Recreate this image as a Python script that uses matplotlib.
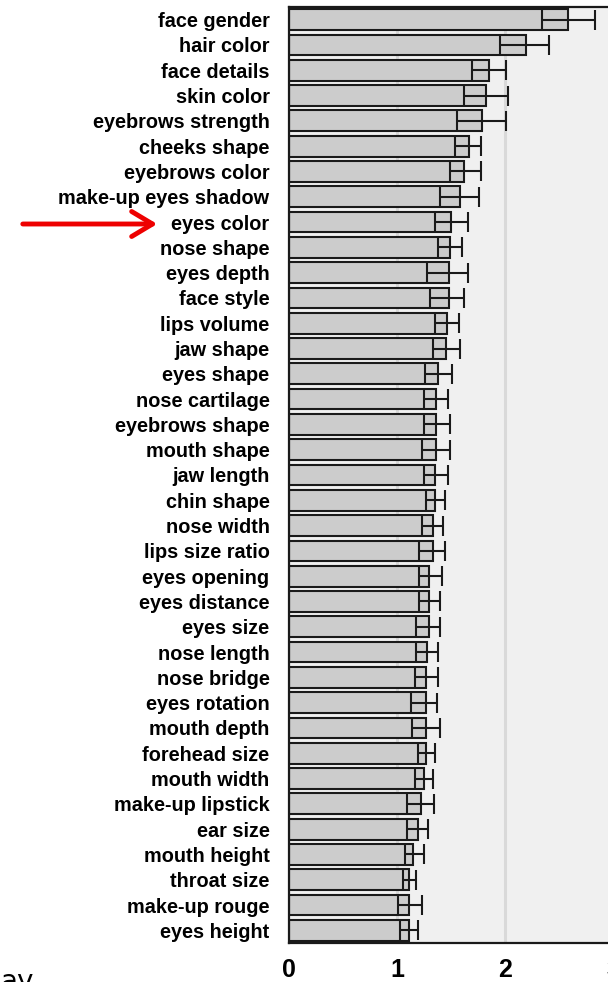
import numpy as np
import matplotlib
matplotlib.use("Agg")
import matplotlib.pyplot as plt


# 特征名称（从上到下）
features = [
    "face gender", "hair color", "face details", "skin color", "eyebrows strength",
    "cheeks shape", "eyebrows color", "make-up eyes shadow", "eyes color", "nose shape",
    "eyes depth", "face style", "lips volume", "jaw shape", "eyes shape",
    "nose cartilage", "eyebrows shape", "mouth shape", "jaw length", "chin shape",
    "nose width", "lips size ratio", "eyes opening", "eyes distance", "eyes size",
    "nose length", "nose bridge", "eyes rotation", "mouth depth", "forehead size",
    "mouth width", "make-up lipstick", "ear size", "mouth height", "throat size",
    "make-up rouge", "eyes height",
]

# 平均值（柱子长度）
means = [
    2.58, 2.19, 1.85, 1.82, 1.79,
    1.67, 1.62, 1.58, 1.50, 1.49,
    1.48, 1.48, 1.46, 1.45, 1.38,
    1.36, 1.36, 1.36, 1.35, 1.35,
    1.33, 1.33, 1.30, 1.30, 1.30,
    1.28, 1.27, 1.27, 1.27, 1.27,
    1.25, 1.22, 1.19, 1.15, 1.11,
    1.11, 1.11,
]

# 误差范围（下、上）
err_low = [
    0.24, 0.24, 0.16, 0.20, 0.23,
    0.13, 0.13, 0.18, 0.15, 0.11,
    0.20, 0.17, 0.11, 0.12, 0.12,
    0.11, 0.11, 0.13, 0.10, 0.08,
    0.10, 0.13, 0.10, 0.10, 0.12,
    0.10, 0.10, 0.14, 0.13, 0.08,
    0.08, 0.13, 0.10, 0.08, 0.05,
    0.10, 0.08,
]
err_high = [
    0.25, 0.22, 0.16, 0.21, 0.22,
    0.11, 0.16, 0.18, 0.16, 0.11,
    0.18, 0.14, 0.11, 0.13, 0.13,
    0.11, 0.13, 0.13, 0.12, 0.09,
    0.10, 0.11, 0.12, 0.10, 0.10,
    0.10, 0.11, 0.10, 0.13, 0.08,
    0.08, 0.12, 0.10, 0.10, 0.07,
    0.12, 0.08,
]

x_ticks = [0, 1, 2, 3]


W, H = 608, 982
fig = plt.figure(figsize=(W / 100, H / 100), dpi=100)

# 坐标轴位置（像素换算）
x0_px, top_px, bottom_px = 289, 7, 943
px_per_unit = 108
x_max = 3.2
ax = fig.add_axes([x0_px / W, (H - bottom_px) / H,
                   x_max * px_per_unit / W, (bottom_px - top_px) / H])
ax.set_facecolor("#f0f0f0")

y = np.arange(len(features))

# 背景竖线
for gx in [1, 2]:
    ax.axvline(gx, color="#d9d9d9", lw=2.2, zorder=0.5)

ax.barh(y, means, height=0.82, color="#cccccc", edgecolor="#1a1a1a",
        linewidth=1.5, zorder=2)
ax.errorbar(means, y, xerr=[err_low, err_high], fmt="none", ecolor="#1a1a1a",
            elinewidth=1.5, capsize=7.3, capthick=1.5, zorder=3)

ax.set_ylim(len(features) - 0.5, -0.5)
ax.set_xlim(0, x_max)
ax.set_yticks(y)
ax.set_yticklabels(features, fontsize=14.3, fontweight="bold",
                   family=["Liberation Sans", "DejaVu Sans"])
ax.set_xticks(x_ticks)
ax.set_xticklabels([str(t) for t in x_ticks], fontsize=18, fontweight="bold",
                   family=["Liberation Sans", "DejaVu Sans"])
ax.tick_params(axis="y", length=0, pad=14)
ax.tick_params(axis="x", length=0, pad=11)

for side in ["left", "top", "bottom"]:
    ax.spines[side].set_color("#1a1a1a")
    ax.spines[side].set_linewidth(1.6)
ax.spines["right"].set_visible(False)

# 红色箭头指向 eyes color
fig.patches.append(matplotlib.patches.FancyArrowPatch(
    (20, H - 224), (160, H - 224), transform=None,
    arrowstyle="->,head_length=10,head_width=6", color="#ee0000",
    lw=3.5, mutation_scale=1.5))

# 左下角被截断的文字
fig.text(0, (H - 968) / H, "ay", fontsize=20, va="top", ha="left")

fig.savefig("out.png", dpi=100)
